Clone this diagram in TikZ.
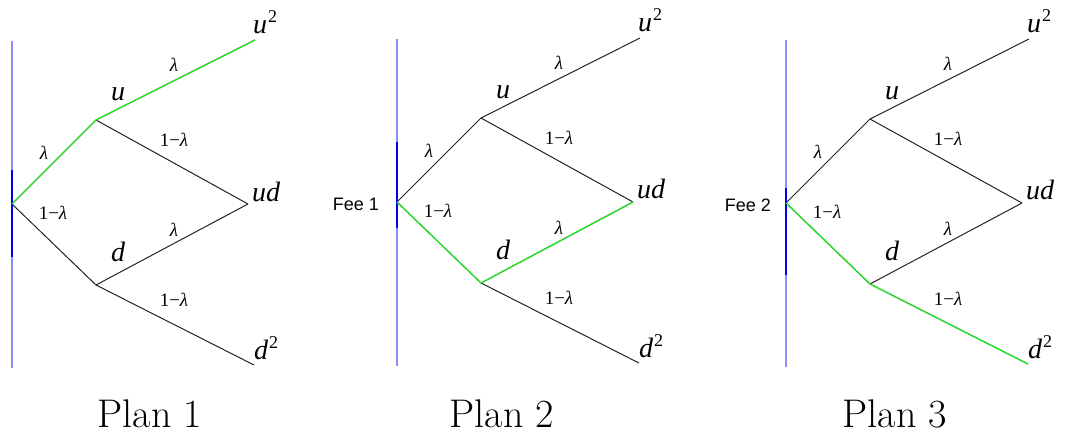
\documentclass[tikz,border=0pt]{standalone}
\usepackage{fontspec}
\newfontfamily\labfont{Liberation Serif}
\newfontfamily\feefont{Liberation Sans}
\definecolor{lblue}{RGB}{140,140,255}
\definecolor{dblue}{RGB}{0,0,240}
\definecolor{grn}{RGB}{40,232,40}
\definecolor{edgec}{RGB}{35,35,35}
\tikzset{
  x=1pt, y=-1pt,
  br/.style={draw=edgec, line width=1pt},
  hl/.style={draw=grn, line width=1.3pt},
  axisl/.style={draw=lblue, line width=1.2pt},
  axisd/.style={draw=dblue, line width=1.2pt},
  statelab/.style={font=\fontsize{28}{28}\labfont\itshape, inner sep=0pt},
  prob/.style={font=\fontsize{19}{19}\labfont, inner sep=0pt},
  feelab/.style={font=\fontsize{18}{18}\feefont, inner sep=0pt},
  titlelab/.style={font=\fontsize{40}{44}\selectfont, inner sep=0pt},
}
\newcommand\sqsup{\kern1pt{\upshape\fontsize{18}{18}\selectfont\raisebox{11pt}{2}}}
\newcommand\lam{{\itshape λ}}
\newcommand\treebody[1]{%
  \coordinate (#1R) at (0,0);
  \coordinate (#1U) at (84,-84);
  \coordinate (#1UU) at (243,-164);
  \coordinate (#1UD) at (236,0);
  \coordinate (#1D) at (84,81);
  \coordinate (#1DD) at (242,161);
  \coordinate (#1AT) at (0,-163);
  \coordinate (#1AB) at (0,164);
  \draw[br] (#1R) -- (#1U);
  \draw[br] (#1U) -- (#1UU);
  \draw[br] (#1U) -- (#1UD);
  \draw[br] (#1R) -- (#1D);
  \draw[br] (#1D) -- (#1UD);
  \draw[br] (#1D) -- (#1DD);
  \draw[axisl] (#1AT) -- (#1AB);
  \node[statelab, anchor=base west] (#1uu) at (241,-170) {u\sqsup};
  \node[statelab, anchor=base west] (#1ud) at (240,-3) {ud};
  \node[statelab, anchor=base west] (#1dd) at (242,155) {d\sqsup};
  \node[statelab, anchor=base] (#1u) at (106,-103) {u};
  \node[statelab, anchor=base] (#1d) at (106,57) {d};
  \node[prob] (#1p1) at (32,-51) {\lam};
  \node[prob] (#1p2) at (41,9) {1−\lam};
  \node[prob] (#1p3) at (162,-139) {\lam};
  \node[prob] (#1p4) at (162,-64) {1−\lam};
  \node[prob] (#1p5) at (162,26) {\lam};
  \node[prob] (#1p6) at (162,96) {1−\lam};
}
\begin{document}
\begin{tikzpicture}
\useasboundingbox (0,0) rectangle (1066,433);
% Plan 1
\begin{scope}[shift={(12,204)}]
  \treebody{a}
  \coordinate (aDT) at (0,-34);
  \coordinate (aDB) at (0,53);
  \draw[axisd] (aDT) -- (aDB);
  \draw[hl] (aR) -- (aU) -- (aUU);
\end{scope}
% Plan 2
\begin{scope}[shift={(397,202)}]
  \treebody{b}
  \coordinate (bDT) at (0,-60);
  \coordinate (bDB) at (0,26);
  \draw[axisd] (bDT) -- (bDB);
  \draw[hl] (bR) -- (bD) -- (bUD);
  \node[feelab, anchor=east] (bfee) at (-18,2) {Fee 1};
\end{scope}
% Plan 3
\begin{scope}[shift={(786,203)}]
  \treebody{c}
  \coordinate (cDT) at (0,-15);
  \coordinate (cDB) at (0,72);
  \draw[axisd] (cDT) -- (cDB);
  \draw[hl] (cR) -- (cD) -- (cDD);
  \node[feelab, anchor=east] (cfee) at (-15,2) {Fee 2};
\end{scope}
\node[titlelab, anchor=base] (t1) at (150,427) {Plan 1};
\node[titlelab, anchor=base] (t2) at (502,427) {Plan 2};
\node[titlelab, anchor=base] (t3) at (895,427) {Plan 3};
\end{tikzpicture}
\end{document}
